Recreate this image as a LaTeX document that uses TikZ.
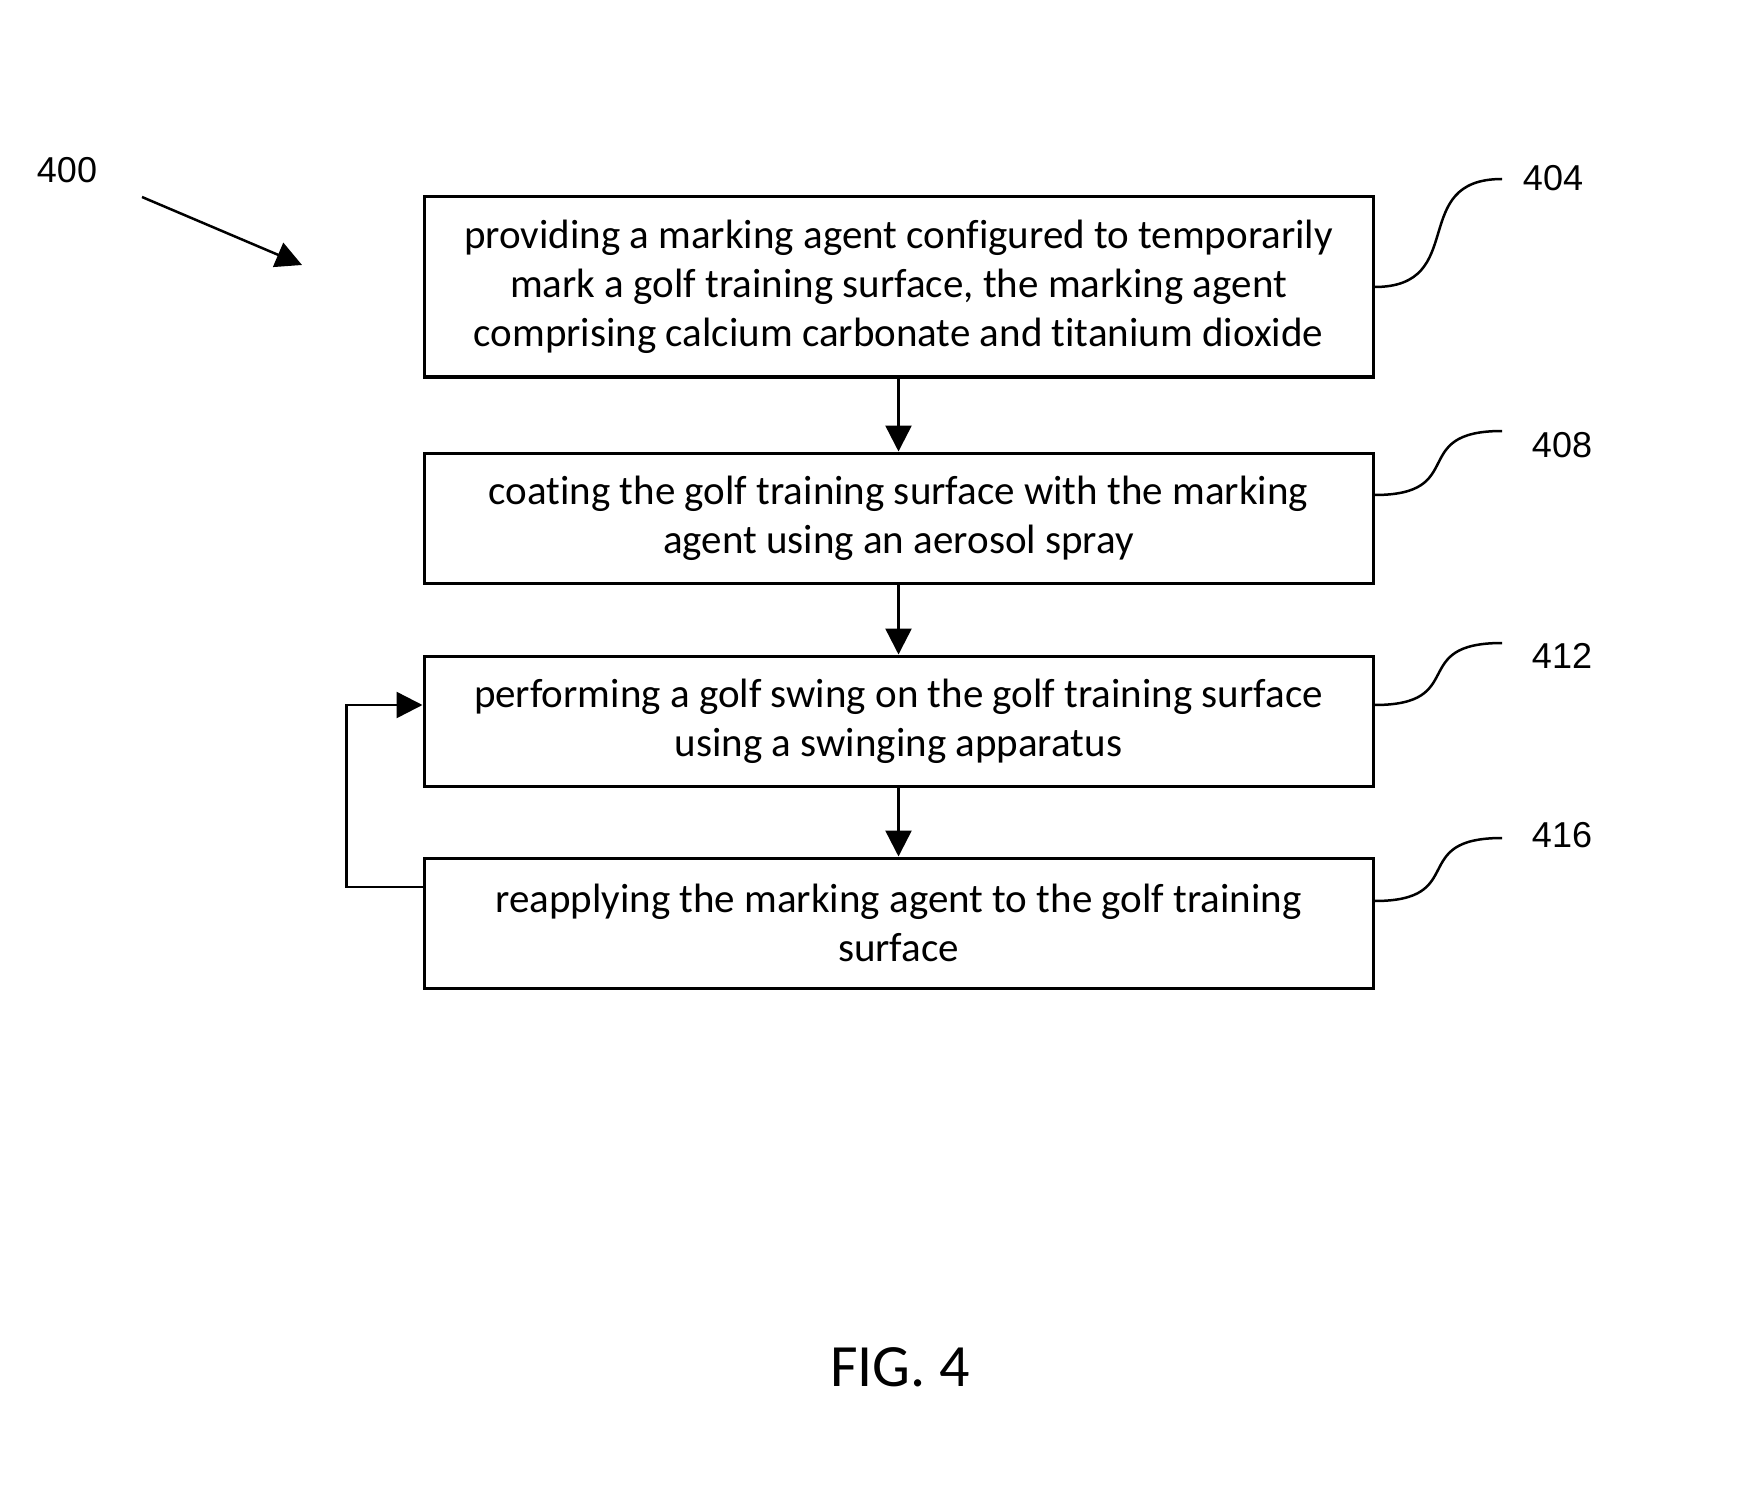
\documentclass[tikz,border=0pt]{standalone}
\usepackage{fontspec}
\setmainfont{Carlito}[Ligatures=NoCommon]
\newfontfamily\labfont{Liberation Sans}
\usetikzlibrary{arrows.meta}
\begin{document}
\begin{tikzpicture}[x=1pt,y=-1pt,
  stepbox/.style={draw,line width=3pt,minimum width=949pt,align=center,inner sep=0pt,font=\fontsize{41}{49}\selectfont},
  flow/.style={line width=2.5pt,-{Triangle[width=26pt,length=26pt]}},
  refnum/.style={font=\labfont\fontsize{36}{40}\selectfont,inner sep=0pt},
  leader/.style={line width=2.5pt}]
\useasboundingbox (0,0) rectangle (1753,1487);
\node[stepbox,minimum height=180pt] (b1) at (898.5,287) {providing a marking agent configured to temporarily\\ mark a golf training surface, the marking agent\\ comprising calcium carbonate and titanium dioxide};
\node[stepbox,minimum height=130pt] (b2) at (898.5,518) {coating the golf training surface with the marking\\ agent using an aerosol spray};
\node[stepbox,minimum height=130pt] (b3) at (898.5,721) {performing a golf swing on the golf training surface\\ using a swinging apparatus};
\node[stepbox,minimum height=130pt] (b4) at (898.5,923) {reapplying the marking agent to the golf training\\ surface};
\draw[flow] (b1.south) -- (b2.north);
\draw[flow] (b2.south) -- (b3.north);
\draw[flow] (b3.south) -- (b4.north);
\draw[flow] ([yshift=36pt]b4.west) -- ++(-76,0) |- ([yshift=16pt]b3.west);
% reference numerals
\node[refnum] (l400) at (67,170) {400};
\node[refnum] (l404) at (1553,178) {404};
\node[refnum] (l408) at (1562,445) {408};
\node[refnum] (l412) at (1562,656) {412};
\node[refnum] (l416) at (1562,835) {416};
\coordinate (a400s) at (142,197);
\coordinate (a400e) at (302,265);
\draw[flow] (a400s) -- (a400e);
\coordinate (e404) at (1502,179);
\coordinate (e408) at (1502,431);
\coordinate (e412) at (1502,643);
\coordinate (e416) at (1502,838);
\draw[leader] (b1.east) .. controls +(95,0) and +(-95,0) .. (e404);
\draw[leader] ([yshift=23pt]b2.east) .. controls +(95,0) and +(-95,0) .. (e408);
\draw[leader] ([yshift=16pt]b3.east) .. controls +(95,0) and +(-95,0) .. (e412);
\draw[leader] ([yshift=22pt]b4.east) .. controls +(95,0) and +(-95,0) .. (e416);
\node[inner sep=0pt,font=\fontsize{60}{72}\selectfont] (fig) at (900,1367) {FIG. 4};
\end{tikzpicture}
\end{document}
